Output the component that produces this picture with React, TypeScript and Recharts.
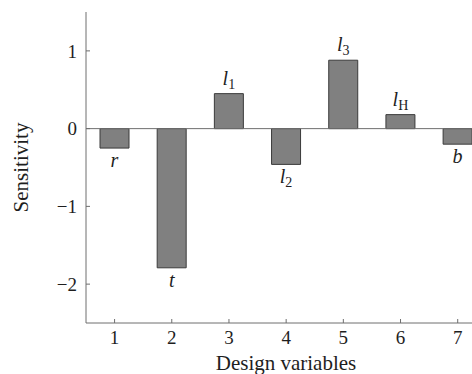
import React from 'react';
import { BarChart, Bar, XAxis, YAxis, ReferenceLine, LabelList } from 'recharts';

const designVariables = [1, 2, 3, 4, 5, 6, 7];
const sensitivity = [-0.25, -1.79, 0.45, -0.46, 0.88, 0.18, -0.2];
const varSymbols = ['r', 't', 'l', 'l', 'l', 'l', 'b'];
const varSubscripts = ['', '', '1', '2', '3', 'H', ''];
const xTicks = [1, 2, 3, 4, 5, 6, 7];
const yTicks = [-2, -1, 0, 1];

const data = designVariables.map((x, i) => ({
  x,
  value: sensitivity[i],
  tag: `${varSymbols[i]}|${varSubscripts[i]}|${sensitivity[i] >= 0 ? '+' : '-'}`,
}));

const FONT = '"Liberation Serif", "Times New Roman", serif';
const AXIS_COLOR = '#6e6e6e';
const TEXT_COLOR = '#1e1e1e';

const fmt = (v: number) => (v < 0 ? `\u2212${Math.abs(v)}` : `${v}`);

const renderVarLabel = (props: any) => {
  const vb = props.viewBox ?? props;
  const x = Number(vb.x);
  const y = Number(vb.y);
  const w = Number(vb.width);
  const h = Number(vb.height);
  const [sym, sub, sign] = String(props.value).split('|');
  const top = Math.min(y, y + h);
  const bottom = Math.max(y, y + h);
  const cx = x + w / 2;
  const baseline = sign === '+' ? top - 9 : bottom + 19;
  return (
    <text x={cx} y={baseline} textAnchor="middle" fontFamily={FONT} fontSize={20} fill={TEXT_COLOR}>
      <tspan fontStyle="italic">{sym}</tspan>
      {sub ? (
        <tspan fontStyle="normal" fontSize={14} dy={4}>
          {sub}
        </tspan>
      ) : null}
    </text>
  );
};

const YTitle = (props: any) => {
  const vb = props.viewBox;
  const x = vb.x + 21;
  const y = vb.y + vb.height / 2;
  return (
    <text
      x={x}
      y={y}
      textAnchor="middle"
      dominantBaseline="central"
      transform={`rotate(-90, ${x}, ${y})`}
      fontFamily={FONT}
      fontSize={21}
      fill={TEXT_COLOR}
    >
      Sensitivity
    </text>
  );
};

const XTitle = (props: any) => {
  const vb = props.viewBox;
  return (
    <text
      x={vb.x + vb.width / 2 + 7}
      y={vb.y + 47}
      textAnchor="middle"
      fontFamily={FONT}
      fontSize={21}
      fill={TEXT_COLOR}
    >
      Design variables
    </text>
  );
};

export default function App() {
  return (
    <div style={{ position: 'absolute', left: 0, top: 0 }}>
      <BarChart width={472} height={374} data={data} margin={{ top: 12, right: 0, bottom: 0, left: 0 }}>
        <XAxis
          dataKey="x"
          type="number"
          domain={[0.5, 7.25]}
          ticks={xTicks}
          height={51}
          allowDataOverflow
          stroke={AXIS_COLOR}
          tickSize={-4}
          tickMargin={12}
          tick={{ fontFamily: FONT, fontSize: 19, fill: TEXT_COLOR }}
          label={<XTitle />}
        />
        <YAxis
          type="number"
          domain={[-2.5, 1.5]}
          ticks={yTicks}
          width={86}
          allowDataOverflow
          stroke={AXIS_COLOR}
          tickSize={-4}
          tickMargin={13}
          tickFormatter={fmt}
          tick={{ fontFamily: FONT, fontSize: 19, fill: TEXT_COLOR }}
          label={<YTitle />}
        />
        <ReferenceLine y={0} stroke={AXIS_COLOR} strokeWidth={1} />
        <Bar dataKey="value" barSize={29} fill="#808080" stroke="#3a3a3a" strokeWidth={1} isAnimationActive={false}>
          <LabelList dataKey="tag" content={renderVarLabel} />
        </Bar>
      </BarChart>
    </div>
  );
}
